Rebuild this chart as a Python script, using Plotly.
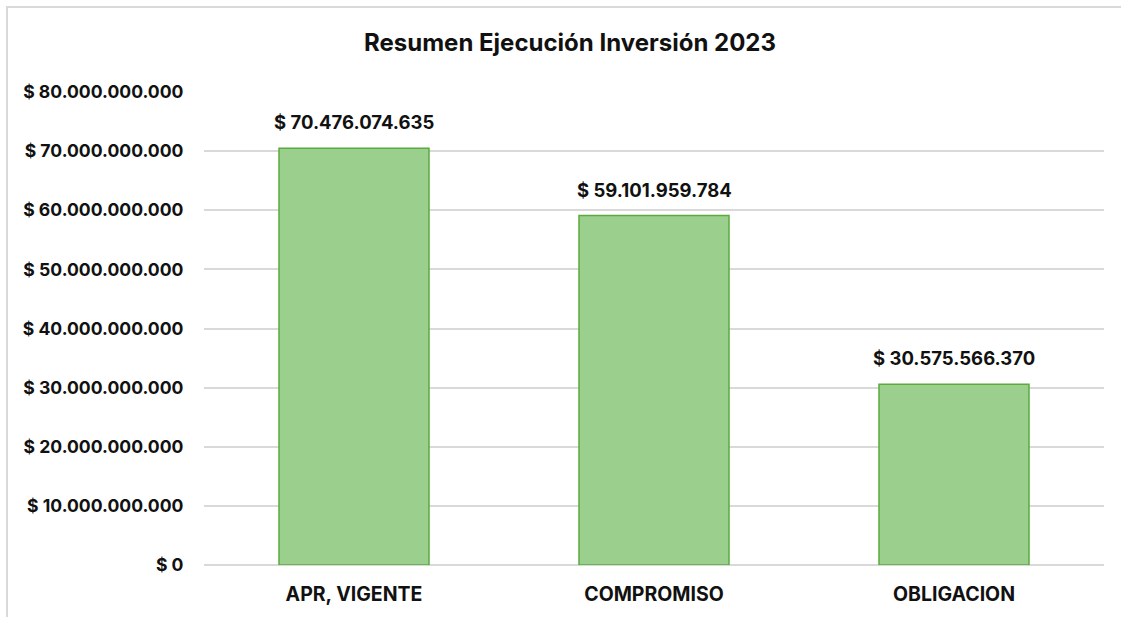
import plotly.graph_objects as go

categories = ["APR, VIGENTE", "COMPROMISO", "OBLIGACION"]
values = [70476074635, 59101959784, 30575566370]
tick_values = [0, 10e9, 20e9, 30e9, 40e9, 50e9, 60e9, 70e9, 80e9]
title_text = "Resumen Ejecución Inversión 2023"


def fmt(v):
    return "$ " + f"{int(round(v)):,}".replace(",", ".")


tick_labels = [fmt(v) for v in tick_values]
value_labels = [fmt(v) for v in values]

FONT = "Inter, Roboto, Liberation Sans, Arial, sans-serif"

fig = go.Figure()
fig.add_trace(go.Bar(
    x=categories,
    y=values,
    marker=dict(color="#9BCF8D", line=dict(color="#5BAA3E", width=1.5)),
    width=0.5,
    hoverinfo="x+y",
))

for c, v, t in zip(categories, values, value_labels):
    fig.add_annotation(x=c, y=v, text=t, showarrow=False, yanchor="bottom",
                       yshift=13, font=dict(family=FONT, size=18.5, color="#111111", weight="bold"))

fig.add_shape(type="rect", xref="paper", yref="paper",
              x0=-0.2189, x1=1.2, y0=-0.3, y1=1.1797,
              line=dict(color="#D9D9D9", width=2), fillcolor="rgba(0,0,0,0)", layer="below")

fig.update_layout(
    width=1121, height=617,
    margin=dict(l=204, r=17, t=92, b=52),
    paper_bgcolor="white", plot_bgcolor="white",
    separators=",.",
    showlegend=False,
    title=dict(text=title_text, x=570 / 1121, xanchor="center", y=1 - 43 / 617, yanchor="middle",
               font=dict(family=FONT, size=24, color="#111111", weight="bold")),
    xaxis=dict(showgrid=False, showline=False, ticks="outside", ticklen=12,
               tickcolor="rgba(0,0,0,0)",
               tickfont=dict(family=FONT, size=19.5, color="#111111", weight="bold")),
    yaxis=dict(range=[0, 80e9], tickvals=tick_values, ticktext=tick_labels,
               showgrid=True, gridcolor="#D9D9D9", gridwidth=1.5,
               zeroline=True, zerolinecolor="#D9D9D9", zerolinewidth=1.5,
               showline=False, ticks="outside", ticklen=16, tickcolor="rgba(0,0,0,0)",
               tickfont=dict(family=FONT, size=17.6, color="#111111", weight="bold")),
)

fig.write_html("out.html", config={"displayModeBar": False},
               post_script="document.body.style.margin='0';document.body.style.overflow='hidden';")
